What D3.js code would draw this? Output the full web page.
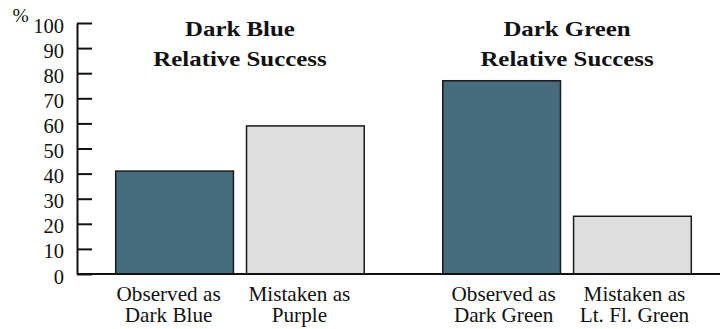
<!DOCTYPE html>
<html>
<head>
<meta charset="utf-8">
<script src="https://cdn.jsdelivr.net/npm/d3@7"></script>
<style>
  html, body { margin: 0; padding: 0; background: #fff; }
  svg { display: block; }
  text { font-family: "Liberation Serif", "Times New Roman", serif; fill: #111; }
</style>
</head>
<body>
<svg id="chart" width="720" height="329"></svg>
<script>
// Groups and their two-line titles
const groups = ["blue", "green"];
const groupTitles = [["Dark Blue", "Relative Success"], ["Dark Green", "Relative Success"]];
// Bars inside each group
const barKinds = ["observed", "mistaken"];
const barLabels = [
  [["Observed as", "Dark Blue"], ["Mistaken as", "Purple"]],
  [["Observed as", "Dark Green"], ["Mistaken as", "Lt. Fl. Green"]]
];
// Percent values per group: [observed, mistaken]
const observedValues = [41, 77];
const mistakenValues = [59, 23];
const yTicks = [0, 10, 20, 30, 40, 50, 60, 70, 80, 90, 100];

const fills = { observed: "#466c7e", mistaken: "#dedede" };
// small horizontal nudge of the category captions in each group (px)
const captionShift = [-6, 2];

const svg = d3.select("#chart");
const axisX = 77, plotRight = 720;
const yTop = 23, yBottom = 274;

const y = d3.scaleLinear().domain([0, 100]).range([yBottom, yTop]);
const x0 = d3.scaleBand().domain(groups).range([115.7, 691.3]).paddingInner(0.24).paddingOuter(0);
const x1 = d3.scaleBand().domain(barKinds).range([0, x0.bandwidth()]).paddingInner(0.1).paddingOuter(0);

const data = groups.map((g, i) => ({
  group: g,
  title: groupTitles[i],
  shift: captionShift[i],
  bars: [
    { kind: "observed", value: observedValues[i], label: barLabels[i][0], shift: captionShift[i] },
    { kind: "mistaken", value: mistakenValues[i], label: barLabels[i][1], shift: captionShift[i] }
  ]
}));

// Bars
const gSel = svg.selectAll("g.group").data(data).join("g")
  .attr("class", "group")
  .attr("transform", d => `translate(${x0(d.group)},0)`);

gSel.selectAll("rect").data(d => d.bars).join("rect")
  .attr("x", d => x1(d.kind))
  .attr("y", d => y(d.value))
  .attr("width", x1.bandwidth())
  .attr("height", d => y(0) - y(d.value))
  .attr("fill", d => fills[d.kind])
  .attr("stroke", "#1a1a1a")
  .attr("stroke-width", 1.5);

// Group titles
gSel.append("text")
  .attr("text-anchor", "middle")
  .attr("font-weight", "bold")
  .attr("font-size", 22)
  .attr("transform", d => `translate(${x0.bandwidth() / 2},0) scale(1.13,1)`)
  .selectAll("tspan").data(d => d.title).join("tspan")
  .attr("x", 0)
  .attr("y", (d, i) => 36 + i * 30)
  .text(d => d);

// Category labels under each bar
gSel.selectAll("text.cat").data(d => d.bars).join("text")
  .attr("class", "cat")
  .attr("text-anchor", "middle")
  .attr("font-size", 20)
  .attr("transform", d => `translate(${x1(d.kind) + x1.bandwidth() / 2 + d.shift},0) scale(1.06,1)`)
  .selectAll("tspan").data(d => d.label).join("tspan")
  .attr("x", 0)
  .attr("y", (d, i) => 301 + i * 21)
  .text(d => d);

// Baseline
svg.append("line")
  .attr("x1", axisX).attr("x2", plotRight)
  .attr("y1", y(0)).attr("y2", y(0))
  .attr("stroke", "#111").attr("stroke-width", 2);

// Y axis with inward ticks
const yAxis = d3.axisLeft(y).tickValues(yTicks).tickSizeInner(-15).tickSizeOuter(0).tickPadding(13);
const ax = svg.append("g").attr("transform", `translate(${axisX},0)`).call(yAxis);
ax.select(".domain").attr("stroke", "#111").attr("stroke-width", 2);
ax.selectAll(".tick line").attr("stroke", "#111").attr("stroke-width", 2);
ax.selectAll(".tick text")
  .attr("font-family", "Liberation Serif, Times New Roman, serif")
  .attr("font-size", 20.5)
  .attr("fill", "#111")
  .attr("dy", "0.44em");

// Unit label
svg.append("text")
  .attr("x", 12.5).attr("y", 22)
  .attr("font-size", 19.5)
  .text("%");
</script>
</body>
</html>
